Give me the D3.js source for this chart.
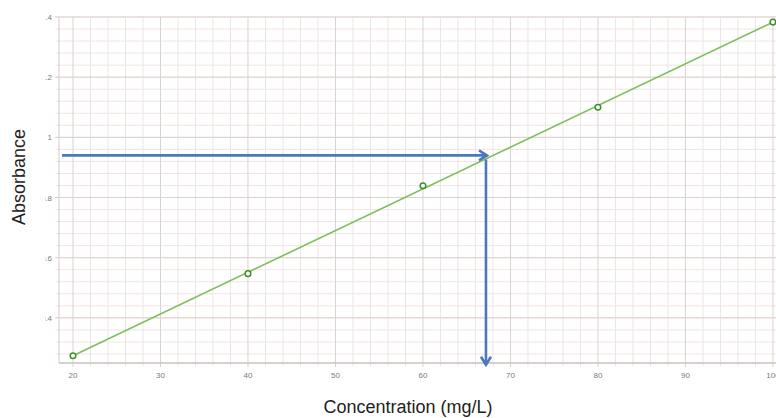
<!DOCTYPE html>
<html>
<head>
<meta charset="utf-8">
<script src="https://cdn.jsdelivr.net/npm/d3@7"></script>
<style>
  body { margin: 0; background: #fff; }
  svg { display: block; font-family: "Liberation Sans", Arial, sans-serif; }
</style>
</head>
<body>
<svg id="chart" width="776" height="418"></svg>
<script>
// calibration standards
let concentrations = [20, 40, 60, 80, 100];
let absorbances = [0.274, 0.547, 0.839, 1.100, 1.383];

// tick values
let xTicks = [20, 30, 40, 50, 60, 70, 80, 90, 100];
let yTicks = [0.4, 0.6, 0.8, 1.0, 1.2, 1.4];

// unknown sample
let sampleAbs = 0.94;
let sampleConc = 67.2;

let svg = d3.select("#chart");

let plotLeft = 59, plotRight = 776, plotTop = 17, plotBottom = 363;

let x = d3.scaleLinear().domain([18.4, 100.35]).range([plotLeft, plotRight]);
let y = d3.scaleLinear().domain([0.25, 1.4]).range([plotBottom, plotTop]);

svg.append("clipPath").attr("id", "plot")
    .append("rect").attr("x", plotLeft).attr("y", plotTop - 1)
    .attr("width", plotRight - plotLeft).attr("height", plotBottom - plotTop + 1);

// minor grid
let xMinor = d3.range(20, 101, 2);
let yMinor = d3.range(0.28, 1.401, 0.04);

let grid = svg.append("g");
grid.selectAll(".xminor")
    .data(xMinor.filter(d => d % 10 != 0))
    .enter().append("line")
    .attr("x1", d => x(d)).attr("x2", d => x(d))
    .attr("y1", plotTop).attr("y2", plotBottom + 3)
    .attr("stroke", "#f0e4e3").attr("stroke-width", 1);
grid.selectAll(".yminor")
    .data(yMinor)
    .enter().append("line")
    .attr("x1", plotLeft - 3).attr("x2", plotRight)
    .attr("y1", d => y(d)).attr("y2", d => y(d))
    .attr("stroke", "#f0e4e3").attr("stroke-width", 1);

// major grid
grid.selectAll(".xmajor")
    .data(xTicks)
    .enter().append("line")
    .attr("x1", d => x(d)).attr("x2", d => x(d))
    .attr("y1", plotTop).attr("y2", plotBottom + 4)
    .attr("stroke", "#dcd2cf").attr("stroke-width", 1);
grid.selectAll(".ymajor")
    .data(yTicks)
    .enter().append("line")
    .attr("x1", plotLeft - 4).attr("x2", plotRight)
    .attr("y1", d => y(d)).attr("y2", d => y(d))
    .attr("stroke", "#dcd2cf").attr("stroke-width", 1);

// plot frame left + bottom
svg.append("line").attr("x1", plotLeft).attr("x2", plotLeft)
    .attr("y1", plotTop).attr("y2", plotBottom)
    .attr("stroke", "#d6ccc9");
svg.append("line").attr("x1", plotLeft).attr("x2", plotRight)
    .attr("y1", plotBottom).attr("y2", plotBottom)
    .attr("stroke", "#cbc1be").attr("stroke-width", 1.5);

// x tick labels
svg.append("g").selectAll("text")
    .data(xTicks)
    .enter().append("text")
    .attr("x", d => x(d))
    .attr("y", 378)
    .attr("text-anchor", "middle")
    .attr("font-size", 8)
    .attr("fill", "#7a7a7a")
    .text(d => d);

// y tick labels (cropped on the left in the original)
svg.append("clipPath").attr("id", "ylab")
    .append("rect").attr("x", 45).attr("y", 0).attr("width", 14).attr("height", 418);
svg.append("g").attr("clip-path", "url(#ylab)")
    .selectAll("text")
    .data(yTicks)
    .enter().append("text")
    .attr("x", 52)
    .attr("y", d => y(d) + 3)
    .attr("text-anchor", "end")
    .attr("font-size", 8)
    .attr("fill", "#7a7a7a")
    .text(d => d3.format(".1~f")(d));

// least squares fit line
let mx = d3.mean(concentrations), my = d3.mean(absorbances);
let slope = d3.sum(concentrations, (c, i) => (c - mx) * (absorbances[i] - my)) /
    d3.sum(concentrations, c => (c - mx) * (c - mx));
let intercept = my - slope * mx;
let fitX = [concentrations[0], concentrations[concentrations.length - 1]];

let plot = svg.append("g").attr("clip-path", "url(#plot)");
plot.append("line")
    .attr("x1", x(fitX[0])).attr("y1", y(slope * fitX[0] + intercept))
    .attr("x2", x(fitX[1])).attr("y2", y(slope * fitX[1] + intercept))
    .attr("stroke", "#7dbf5c").attr("stroke-width", 1.6);

svg.append("g").selectAll("circle")
    .data(concentrations)
    .enter().append("circle")
    .attr("cx", d => x(d))
    .attr("cy", (d, i) => y(absorbances[i]))
    .attr("r", 2.8)
    .attr("fill", "#fff")
    .attr("stroke", "#3f8f2c")
    .attr("stroke-width", 1.5);

// reading arrows
let arrowColor = "#4a78b8";
let hx0 = x(18.75), hx1 = x(sampleConc) + 1, hy = y(sampleAbs);
svg.append("line")
    .attr("x1", hx0).attr("x2", hx1 - 2)
    .attr("y1", hy).attr("y2", hy)
    .attr("stroke", arrowColor).attr("stroke-width", 2.6);
svg.append("path")
    .attr("d", "M" + (hx1 - 8) + "," + (hy - 5) + "L" + hx1 + "," + hy + "L" + (hx1 - 8) + "," + (hy + 5))
    .attr("fill", "none").attr("stroke", arrowColor).attr("stroke-width", 2.6)
    .attr("stroke-linejoin", "miter");

let vx = x(sampleConc), vy0 = hy + 4, vy1 = y(0.244);
svg.append("line")
    .attr("x1", vx).attr("x2", vx)
    .attr("y1", vy0).attr("y2", vy1 - 2)
    .attr("stroke", arrowColor).attr("stroke-width", 2.6);
svg.append("path")
    .attr("d", "M" + (vx - 5) + "," + (vy1 - 8) + "L" + vx + "," + vy1 + "L" + (vx + 5) + "," + (vy1 - 8))
    .attr("fill", "none").attr("stroke", arrowColor).attr("stroke-width", 2.6);

// axis titles
svg.append("text")
    .attr("x", 408).attr("y", 413)
    .attr("text-anchor", "middle")
    .attr("font-size", 18)
    .attr("fill", "#222")
    .text("Concentration (mg/L)");

svg.append("text")
    .attr("transform", "translate(25,177) rotate(-90)")
    .attr("text-anchor", "middle")
    .attr("font-size", 18)
    .attr("fill", "#222")
    .text("Absorbance");
</script>
</body>
</html>
